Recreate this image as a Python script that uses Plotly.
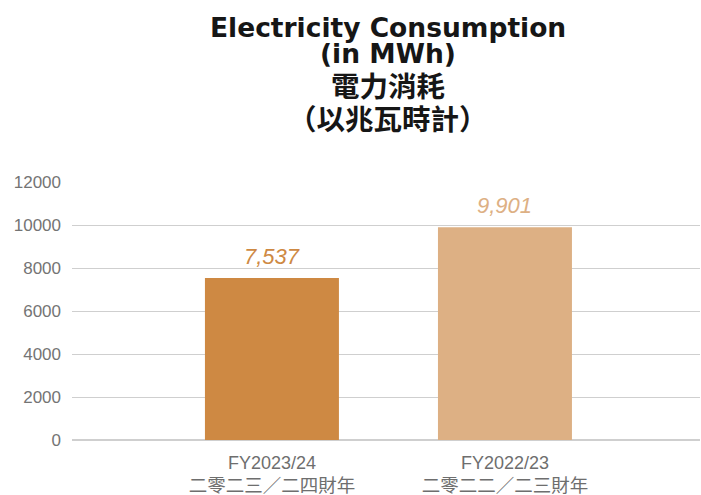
import plotly.graph_objects as go

categories = [
    "FY2023/24<br><span style='font-size:18.5px'>二零二三／二四財年</span>",
    "FY2022/23<br><span style='font-size:18.5px'>二零二二／二三財年</span>",
]
values = [7537, 9901]
value_labels = ["7,537", "9,901"]
bar_colors = ["#CE8943", "#DDB084"]
title_lines = ["Electricity Consumption", "(in MWh)", "電力消耗", "（以兆瓦時計）"]
y_ticks = [0, 2000, 4000, 6000, 8000, 10000, 12000]

FONT = "Liberation Sans, Arial, Noto Sans CJK TC, sans-serif"
TITLE_FONT = "DejaVu Sans, Noto Sans CJK TC, sans-serif"

H, W = 495, 701
L, R, T, B = 72, 1, 182, 55
pw, ph = W - L - R, H - T - B


def px_to_paper(xpx, ypx):
    return (xpx - L) / pw, 1 - (ypx - T) / ph


fig = go.Figure(
    go.Bar(
        x=[0, 1],
        y=values,
        width=0.575,
        marker=dict(color=bar_colors, line_width=0),
        hoverinfo="skip",
    )
)

# value labels above the bars
for i, (v, lab) in enumerate(zip(values, value_labels)):
    fig.add_annotation(
        x=i, y=v, text=f"<i>{lab}</i>", showarrow=False,
        yanchor="bottom", yshift=7,
        font=dict(family=FONT, size=22, color=bar_colors[i]),
    )

# four title lines, placed one by one (spacing is uneven in the original)
title_y = [27, 53, 87, 120]
title_size = [26.5, 26.5, 28.5, 28.5]
for line, ypx, sz in zip(title_lines, title_y, title_size):
    xp, yp = px_to_paper(388, ypx)
    fig.add_annotation(
        x=xp, y=yp, xref="paper", yref="paper", text=f"<b>{line}</b>",
        showarrow=False, xanchor="center", yanchor="middle",
        font=dict(family=TITLE_FONT, size=sz, color="#161616"),
    )

fig.update_layout(
    width=W,
    height=H,
    plot_bgcolor="white",
    paper_bgcolor="white",
    margin=dict(l=L, r=R, t=T, b=B),
    showlegend=False,
    font=dict(family=FONT, color="#6e6e6e"),
    xaxis=dict(
        range=[-0.858, 1.837],
        tickmode="array",
        tickvals=[0, 1],
        ticktext=categories,
        showgrid=False,
        zeroline=False,
        showline=False,
        automargin=False,
        ticklabelstandoff=10,
        tickfont=dict(size=18, color="#6e6e6e"),
        fixedrange=True,
    ),
    yaxis=dict(
        range=[0, 12000],
        tickmode="array",
        tickvals=y_ticks,
        ticktext=[str(t) for t in y_ticks],
        showgrid=True,
        gridcolor="#cfcfcf",
        gridwidth=1,
        zeroline=True,
        zerolinecolor="#cfcfcf",
        showline=False,
        ticks="",
        automargin=False,
        ticklabelstandoff=10,
        tickfont=dict(size=17, color="#747474"),
        fixedrange=True,
    ),
)

fig.write_html(
    "out.html",
    config={"displayModeBar": False},
    post_script="document.body.style.margin='0px';",
)
